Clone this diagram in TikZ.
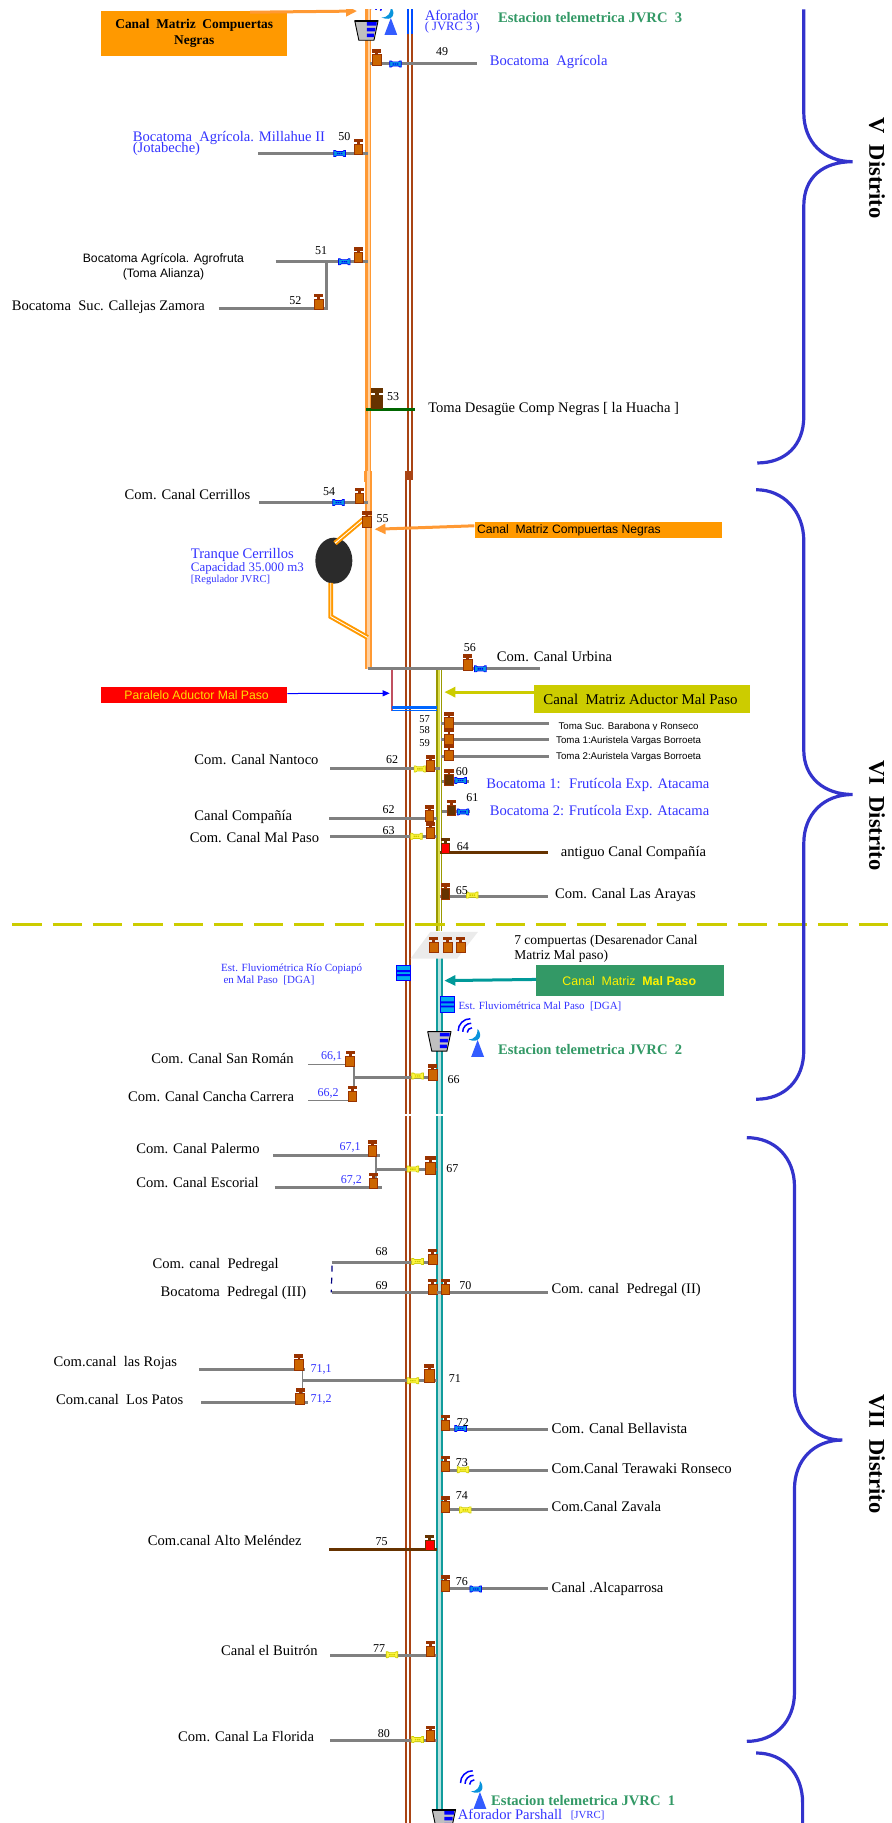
\documentclass[tikz,border=0pt]{standalone}
\usepackage{fontspec}
\setmainfont{Liberation Serif}
\setsansfont{Liberation Sans}
\usetikzlibrary{arrows.meta,shapes.geometric}
\definecolor{cBrown}{HTML}{A94414}
\definecolor{cTeal}{HTML}{119C9C}
\definecolor{cOlive}{HTML}{999900}
\definecolor{cOrange}{HTML}{FF9933}
\definecolor{cOrangeB}{HTML}{FF9900}
\definecolor{cPale}{HTML}{FFD0A0}
\definecolor{cGray}{HTML}{808080}
\definecolor{cBlueT}{HTML}{3333FF}
\definecolor{cGreenT}{HTML}{339966}
\definecolor{cBrace}{HTML}{3333CC}
\definecolor{cYel}{HTML}{CCCC00}
\definecolor{cGateB}{HTML}{CC6600}
\definecolor{cGateT}{HTML}{993300}
\definecolor{cDark}{HTML}{663300}
\definecolor{cArrowT}{HTML}{009999}
\tikzset{
  tx/.style={anchor=west,inner sep=0pt,font=\fontsize{14.6}{16}\selectfont},
  blu/.style={tx,text=cBlueT},
  tsm/.style={tx,font=\fontsize{13.5}{14}\selectfont},
  num/.style={inner sep=0pt,font=\fontsize{12}{13}\selectfont},
  numb/.style={num,text=cBlueT},
  sansm/.style={anchor=west,inner sep=0pt,font=\sffamily\fontsize{9.7}{10}\selectfont},
  sansl/.style={anchor=center,inner sep=0pt,font=\sffamily\fontsize{12.2}{13}\selectfont},
  grn/.style={anchor=west,inner sep=0pt,text=cGreenT,font=\bfseries\fontsize{14.6}{15}\selectfont},
  dist/.style={rotate=-90,inner sep=0pt,font=\bfseries\fontsize{22.5}{24}\selectfont},
  branch/.style={draw=cGray,line width=3pt},
  brownc/.style={draw=cBrown,line width=2pt},
  tealc/.style={draw=cTeal,line width=2pt},
  olivec/.style={draw=cOlive,line width=1.8pt},
  brace/.style={draw=cBrace,line width=3.2pt},
  fatarrow/.style={line width=3pt,-{Triangle[length=11pt,width=10pt]}},
  feed/.style={draw=cOrangeB,line width=2pt,double=white,double distance=.9pt},
  colbox/.style={rectangle,inner sep=0pt,draw=none},
  pics/gate/.style 2 args={code={
    \filldraw[fill=#1,draw=#2,line width=.8pt] (-3.7,0) rectangle (3.7,-9);
    \fill[#2] (-1.2,-9) rectangle (1.2,-11);
    \fill[#2] (-3.9,-10.6) rectangle (3.9,-13.6);
  }},
  pics/valve/.style 2 args={code={
    \filldraw[fill=#1,draw=#2,line width=.7pt] (-5,-2.6) -- (-3.6,-2.6) -- (-2.6,-1.8) -- (2.6,-1.8) -- (3.6,-2.6) -- (5,-2.6) -- (5,2.6) -- (3.6,2.6) -- (2.6,1.8) -- (-2.6,1.8) -- (-3.6,2.6) -- (-5,2.6) -- cycle;
    \fill[#2] (-2.4,-.6) rectangle (-1.2,.6) (-.6,-.6) rectangle (.6,.6) (1.2,-.6) rectangle (2.4,.6);
  }},
  pics/station/.style={code={
    \filldraw[fill=cyan,draw=blue,line width=1pt] (-6,-6.5) rectangle (6,6.5);
    \fill[blue] (-6,-2.6) rectangle (6,-.9) (-6,.9) rectangle (6,2.6);
  }},
  pics/aforo/.style={code={
    \filldraw[fill=black!25,draw=black,line width=.9pt] (-10,0) -- (10,0) -- (6.5,16.6) -- (-6.5,16.6) -- cycle;
    \fill[blue] (.5,1) rectangle (8.8,4) (.5,6) rectangle (7.6,9) (.5,11) rectangle (6.5,14);
    \draw[black,line width=1.4pt] (-10,0) -- (10,0);
  }},
  pics/radio/.style={code={
    \fill[blue!80!cyan!80!white] (-5.5,0) -- (5.5,0) -- (0,-14.5) -- cycle;
    \fill[cyan!80!blue] (0,-24) .. controls (5,-18) and (1,-11) .. (-8,-15) .. controls (-2,-15) and (0,-19) .. cycle;
    \draw[blue,line width=1.5pt] (-4.85,-24.9) .. controls (-7,-25) and (-9,-23) .. (-8.9,-20.85);
    \draw[blue,line width=1.5pt] (-5.5,-28.8) .. controls (-9.4,-29) and (-13,-25.4) .. (-12.8,-21.5);
    \draw[blue,line width=1.5pt] (-6.2,-32.7) .. controls (-11.8,-33) and (-17,-27.8) .. (-16.7,-22.2);
  }},
}
\newcommand\gt[2]{\pic at (#1,#2) {gate={cGateB}{cGateT}};}
\newcommand\gtd[2]{\pic at (#1,#2) {gate={cDark}{cGateT}};}
\newcommand\gtr[2]{\pic at (#1,#2) {gate={red}{cDark}};}
\newcommand\vb[2]{\pic at (#1,#2) {valve={cyan!85!blue}{blue}};}
\newcommand\vy[2]{\pic at (#1,#2) {valve={yellow!75}{cYel}};}
\newcommand\brn[4]{\coordinate (#1a) at (#2,#4);\coordinate (#1b) at (#3,#4);\draw[branch] (#1a) -- (#1b);}
\begin{document}
\begin{tikzpicture}[x=1.16319pt,y=-1.16319pt]
\useasboundingbox (0,0) rectangle (766,1567.2);
% --- main canals
\draw[blue!70!cyan,line width=2pt] (350.5,8) -- (350.5,29) (354,8) -- (354,29);
\draw[brownc] (350.5,29) -- (350.5,405) (354,29) -- (354,405);
\draw[brownc] (348.8,405) -- (348.8,1568) (352.8,405) -- (352.8,1568);
\draw[brownc] (350.5,405) -- (350.5,413) (354,405) -- (354,413);
\draw[cPale,line width=6pt] (316.3,8) -- (316.3,405);
\draw[cOrange,line width=3.6pt] (315,8) -- (315,405);
\draw[cOrange,line width=1pt] (318.7,8) -- (318.7,405);
\draw[cPale,line width=3pt] (316.7,405) -- (316.7,575);
\draw[cOrange,line width=1.6pt] (314.6,405) -- (314.6,575) (318.8,405) -- (318.8,575);
\draw[cOrange,line width=3pt] (314.3,405) -- (314.3,414);
\draw[cYel!70,line width=2.5pt] (377.6,576) -- (377.6,800);
\draw[olivec] (375.6,576) -- (375.6,800) (379.6,576) -- (379.6,800);
\draw[cTeal!30,line width=2.5pt] (377.7,822) -- (377.7,1568);
\draw[tealc] (375.7,822) -- (375.7,1568) (379.7,822) -- (379.7,1568);
\draw[draw={rgb,255:red,192;green,80;blue,96},line width=2.8pt] (337,576) -- (337,611);
\draw[blue!60!cyan,line width=2.6pt] (337,608) -- (376,608);
\draw[blue!60!cyan,line width=.8pt] (337,611) -- (376,611);
% white breaks
\fill[white] (345,331) rectangle (347.5,347) (345,643) rectangle (347.5,658) (345,1481) rectangle (347.5,1495);
\fill[white] (345,958) rectangle (382,959);
% --- branches
\brn{b49}{318}{410}{55} \gt{324}{56} \vb{340}{55}
\node[num] (n49) at (380,44) {49};
\node[blu] (t49) at (421,53.5) {Bocatoma~ Agrícola};
\brn{b50}{222}{316}{132} \gt{308}{133} \vb{292}{132}
\node[num] (n50) at (296,117) {50};
\node[blu] (t50) at (114,119) {Bocatoma~ Agrícola. Millahue II};
\node[blu] (t50b) at (114,128.5) {(Jotabeche)};
\brn{b51}{237}{316}{225} \gt{308}{226} \vb{296}{225}
\node[num] (n51) at (276,215) {51};
\coordinate (v51a) at (281,225); \coordinate (v51b) at (281,266);
\draw[branch] (v51a) -- (v51b);
\brn{b52}{188}{282}{265} \gt{274}{266}
\node[num] (n52) at (254,258) {52};
\node[sansl] (t51) at (140.5,222.5) {Bocatoma Agrícola. Agrofruta};
\node[sansl] (t51b) at (140.5,236) {(Toma Alianza)};
\node[tx] (t52) at (10,264) {Bocatoma~ Suc. Callejas Zamora};
\coordinate (b53a) at (315,352); \coordinate (b53b) at (357,352);
\draw[draw=green!40!black,line width=3pt] (b53a) -- (b53b);
\pic[scale=1.3] at (324,351.5) {gate={cDark}{cDark}};
\node[num] (n53) at (338,341) {53};
\node[tx] (t53) at (368,351.5) {Toma Desagüe Comp Negras [ la Huacha ]};
\brn{b54}{223}{316}{432} \gt{309}{433} \vb{291}{432}
\node[num] (n54) at (283,423) {54};
\node[tx] (t54) at (107,425) {Com. Canal Cerrillos};
% tranque
\node[ellipse,fill=black!83,minimum width=37pt,minimum height=46pt,inner sep=0pt] (tq) at (287,482) {};
\coordinate (f55) at (314,445); \coordinate (f56) at (288,467);
\draw[feed] (f55) -- (f56);
\coordinate (f57) at (284.3,501); \coordinate (f58) at (284.3,530); \coordinate (f59) at (316,548);
\draw[feed,line join=miter] (f57) -- (f58) -- (f59);
\gt{315.5}{453}
\node[num] (n55) at (329,446) {55};
\node[blu] (t55a) at (164,477) {Tranque Cerrillos};
\node[blu,font=\fontsize{12.9}{13}\selectfont] (t55b) at (164,489) {Capacidad 35.000 m3};
\node[blu,font=\fontsize{10.5}{11}\selectfont] (t55c) at (164,499) {[Regulador JVRC]};
\node[colbox,fill=cOrangeB,minimum width=247.8pt,minimum height=15.7pt] (bxB) at (514.5,455.5) {};
\node[anchor=west,inner sep=0pt,font=\sffamily\fontsize{12.15}{13}\selectfont] (tbxB) at (410,456) {Canal~ Matriz Compuertas Negras};
\coordinate (tipB) at (322,455);
\draw[cOrange,fatarrow] (bxB.west) ++(0,-3.5) -- (tipB);
\node[colbox,fill=cOrangeB,minimum width=186pt,minimum height=44.7pt] (bxA) at (167,28.7) {};
\node[inner sep=0pt,align=center,font=\bfseries\fontsize{13.4}{16.3}\selectfont] (tbxA) at (167,28.5) {Canal~ Matriz~ Compuertas\\Negras};
\coordinate (tipA) at (307,9.5); \coordinate (tailA) at (215,10.5);
\draw[cOrange,fatarrow] (tailA) -- (tipA);
% 56
\brn{b56}{316}{464}{575} \gt{402}{576} \vb{413}{575}
\node[num] (n56) at (404,557) {56};
\node[tx] (t56) at (427,564) {Com. Canal Urbina};
\node[colbox,fill=red,minimum width=186pt,minimum height=15.7pt] (bxP) at (167,597.5) {};
\node[inner sep=0pt,text=yellow!80!orange,font=\sffamily\fontsize{12.2}{13}\selectfont] (tbxP) at (169,598) {Paralelo Aductor Mal Paso};
\coordinate (tipP) at (335,596);
\draw[blue,line width=1pt,-{Triangle[length=7pt,width=6pt]}] (bxP.east) ++(0,-1.3) -- (tipP);
\node[colbox,fill=cYel,minimum width=216.4pt,minimum height=27.7pt] (bxC) at (552,601) {};
\node[tx,font=\fontsize{14.9}{15}\selectfont] (tbxC) at (467,601.5) {Canal~ Matriz Aductor Mal Paso};
\coordinate (tipC) at (382,595);
\draw[cYel,fatarrow] (bxC.west) ++(0,-6) -- (tipC);
% 57-59
\brn{b57}{379}{472}{622} \gt{386}{626}
\brn{b58}{379}{472}{636} \gt{386}{640}
\brn{b59}{379}{472}{650} \gt{386}{654}
\node[num,font=\fontsize{10.5}{11}\selectfont] (n57) at (365,618) {57};
\node[num,font=\fontsize{10.5}{11}\selectfont] (n58) at (365,628) {58};
\node[num,font=\fontsize{10.5}{11}\selectfont] (n59) at (365,638.5) {59};
\node[sansm] (t57) at (480,625.4) {Toma Suc. Barabona y Ronseco};
\fill[white] (476,627.7) rectangle (620,634);
\node[sansm] (t58) at (478,637) {Toma 1:Auristela Vargas Borroeta};
\node[sansm] (t59) at (478,651) {Toma 2:Auristela Vargas Borroeta};
% 62 Nantoco
\brn{b62}{284}{378}{661} \vy{361}{661} \gt{370}{663}
\node[num] (n62) at (337,653) {62};
\node[tx] (t62) at (167,653) {Com. Canal Nantoco};
\brn{b60}{380}{403}{671.5} \gtd{386}{675} \vb{396}{671}
\node[num] (n60) at (397,663) {60};
\node[blu] (t60) at (418,675) {Bocatoma 1:~ Frutícola Exp. Atacama};
\brn{b61}{380}{404}{698} \gtd{388}{701} \vb{398}{698}
\node[num] (n61) at (406,686) {61};
\node[blu] (t61) at (421,698) {Bocatoma 2: Frutícola Exp. Atacama};
\brn{b62c}{283}{376}{704} \gt{369}{706}
\node[num] (n62c) at (334,696) {62};
\node[tx] (t62c) at (167,702.5) {Canal Compañía};
\brn{b63}{284}{376}{719} \vy{358}{719} \gt{370}{720.5}
\node[num] (n63) at (334,714) {63};
\node[tx] (t63) at (163,720) {Com. Canal Mal Paso};
\coordinate (b64a) at (378,733); \coordinate (b64b) at (471,733);
\draw[draw=cDark,line width=3pt] (b64a) -- (b64b);
\gtr{383}{734}
\node[num] (n64) at (398,728) {64};
\node[tx] (t64) at (482,733.5) {antiguo Canal Compañía};
\brn{b65}{378}{471}{771} \gtd{383}{773} \vy{406}{769.5}
\node[num] (n65) at (397,766) {65};
\node[tx] (t65) at (477,769.5) {Com. Canal Las Arayas};
% dashed divider
\coordinate (dv1) at (10.6,795); \coordinate (dv2) at (766,795);
\draw[cYel,line width=3.4pt,dash pattern=on 29.3pt off 11pt] (dv1) -- (dv2);
% 7 compuertas
\fill[black!8] (370,801) -- (411,801) -- (393,824) -- (353,824) -- cycle;
\gt{373}{819} \gt{385}{819} \gt{396}{819}
\node[tsm] (t7a) at (442,809) {7 compuertas (Desarenador Canal};
\node[tsm] (t7b) at (442,822) {Matriz Mal paso)};
\pic at (347,836.5) {station};
\pic at (385,863.5) {station};
\node[anchor=west,inner sep=0pt,text=cBlueT,font=\fontsize{11}{12}\selectfont] (te1) at (190,833) {Est. Fluviométrica Río Copiapó};
\node[anchor=west,inner sep=0pt,text=cBlueT,font=\fontsize{11}{12}\selectfont] (te2) at (192,842.5) {en Mal Paso~ [DGA]};
\node[anchor=west,inner sep=0pt,text=cBlueT,font=\fontsize{11}{12}\selectfont] (te3) at (394,865.5) {Est. Fluviométrica Mal Paso~ [DGA]};
\node[colbox,fill=cGreenT,minimum width=187.3pt,minimum height=31pt] (bxM) at (541.5,843) {};
\node[inner sep=0pt,text=yellow,font=\sffamily\fontsize{12.4}{13}\selectfont] (tbxM) at (541,843) {Canal~ Matriz~ \textbf{Mal Paso}};
\coordinate (tipM) at (382,843);
\draw[cArrowT,fatarrow] (bxM.west) ++(0,-1) -- (tipM);
\pic at (377.7,887) {aforo};
\pic at (410.6,908.5) {radio};
\node[grn] (tg2) at (428,902) {Estacion telemetrica JVRC~ 2};
% 66
\coordinate (v66a) at (304,917); \coordinate (v66b) at (304,936);
\draw[cGray,line width=2pt] (v66a) -- (v66b);
\brn{b66}{304}{376}{926} \vy{359}{925} \gt{372}{928.5}
\node[num] (n66) at (390,928) {66};
\coordinate (b661a) at (265,915); \coordinate (b661b) at (300,915);
\draw[cGray,line width=1.6pt] (b661a) -- (b661b);
\gt{301}{917}
\node[numb] (n661) at (285,908) {66,1};
\coordinate (b662a) at (265,946); \coordinate (b662b) at (300,946);
\draw[cGray,line width=1.6pt] (b662a) -- (b662b);
\gt{303}{947}
\node[numb] (n662) at (282,940) {66,2};
\node[tx] (t661) at (130,910) {Com. Canal San Román};
\node[tx] (t662) at (110,943) {Com. Canal Cancha Carrera};
% 67
\coordinate (v67a) at (323,993); \coordinate (v67b) at (323,1021);
\draw[cGray,line width=2pt] (v67a) -- (v67b);
\brn{b67}{323}{376}{1005} \vy{355}{1005} \pic[scale=1.2] at (370,1010) {gate={cGateB}{cGateT}};
\node[num] (n67) at (389,1005) {67};
\brn{b671}{235}{327}{993} \gt{320}{994}
\node[numb] (n671) at (301,986) {67,1};
\brn{b672}{236}{328}{1021} \gt{321}{1022}
\node[numb] (n672) at (302,1015) {67,2};
\node[tx] (t671) at (117,987.5) {Com. Canal Palermo};
\node[tx] (t672) at (117,1017) {Com. Canal Escorial};
% 68-70
\brn{b68}{285}{376}{1085} \vy{359}{1084.5} \gt{372}{1087}
\node[num] (n68) at (328,1076) {68};
\node[tx] (t68) at (131,1087.5) {Com. canal~ Pedregal};
\coordinate (dsA) at (285.5,1088); \coordinate (dsB) at (284.8,1111);
\draw[blue!50!black,line width=1.2pt,dash pattern=on 6pt off 6pt] (dsA) -- (dsB);
\brn{b69}{285}{376}{1111} \gt{372}{1113}
\node[num] (n69) at (328,1105) {69};
\node[tx] (t69) at (138,1111.5) {Bocatoma~ Pedregal (III)};
\brn{b70}{376}{471}{1111} \gt{383}{1113}
\node[num] (n70) at (400,1105) {70};
\node[tx] (t70) at (474,1109) {Com. canal~ Pedregal (II)};
% 71
\coordinate (v71a) at (260,1177); \coordinate (v71b) at (260,1205);
\draw[cGray,line width=1.8pt] (v71a) -- (v71b);
\brn{b71}{260}{376}{1187} \vy{355}{1187} \pic[scale=1.15] at (369,1188) {gate={cGateB}{cGateT}};
\node[num] (n71) at (391,1185) {71};
\brn{b711}{171}{262}{1177} \gt{257}{1178}
\node[numb] (n711) at (276,1177) {71,1};
\brn{b712}{173}{265}{1206} \gt{258}{1207}
\node[numb] (n712) at (276,1203) {71,2};
\node[tx] (t711) at (46,1171.5) {Com.canal~ las Rojas};
\node[tx] (t712) at (48,1203) {Com.canal~ Los Patos};
% 72-76
\brn{b72}{380}{471}{1229} \gt{383}{1230} \vb{396}{1228}
\node[num] (n72) at (398,1223) {72};
\node[tx,font=\fontsize{14.9}{15}\selectfont] (t72) at (474,1228) {Com. Canal Bellavista};
\brn{b73}{380}{471}{1264} \gt{383}{1265} \vy{398}{1263.5}
\node[num] (n73) at (397,1257) {73};
\node[tx,font=\fontsize{14.8}{15}\selectfont] (t73) at (474,1262) {Com.Canal Terawaki Ronseco};
\brn{b74}{380}{471}{1298} \gt{383}{1300} \vy{400}{1298}
\node[num] (n74) at (397,1286) {74};
\node[tx] (t74) at (474,1295) {Com.Canal Zavala};
\coordinate (b75a) at (283,1332); \coordinate (b75b) at (376,1332);
\draw[draw=cDark,line width=3pt] (b75a) -- (b75b);
\gtr{369.5}{1333}
\node[num] (n75) at (328,1325) {75};
\node[tx] (t75) at (127,1324) {Com.canal Alto Meléndez};
\brn{b76}{380}{471}{1366} \gt{383}{1368} \vb{409}{1366}
\node[num] (n76) at (397,1360) {76};
\node[tx] (t76) at (474,1366) {Canal .Alcaparrosa};
\brn{b77}{284}{376}{1423} \vy{337}{1422.5} \gt{370}{1424}
\node[num] (n77) at (326,1417) {77};
\node[tx] (t77) at (190,1419) {Canal el Buitrón};
\brn{b80}{284}{376}{1496} \vy{359}{1495.5} \gt{370}{1497}
\node[num] (n80) at (330,1490) {80};
\node[tx] (t80) at (153,1493) {Com. Canal La Florida};
% telemetry top and bottom
\pic at (315,18) {aforo};
\pic at (336,30) {radio};
\node[blu] (taf) at (365,13.5) {Aforador};
\node[blu,font=\fontsize{12.6}{13}\selectfont] (taf2) at (365,24) {( JVRC 3 )};
\node[grn] (tg3) at (428,15.5) {Estacion telemetrica JVRC~ 3};
\pic at (412.6,1555) {radio};
\pic at (381.6,1556) {aforo};
\node[grn] (tg1) at (422,1547.5) {Estacion telemetrica JVRC~ 1};
\node[blu] (tpa) at (393.5,1560) {Aforador Parshall};
\node[blu,font=\fontsize{10.8}{11}\selectfont] (tpb) at (490.5,1560.5) {[JVRC]};
% braces
\draw[brace] (691,8) -- (691,97) .. controls (691,122) and (708,139) .. (733,139) .. controls (708,139) and (691,152) .. (691,177) -- (691,358) .. controls (691,383) and (675,398) .. (651,398);
\draw[brace] (650,421) .. controls (674,421) and (691,440) .. (691,465) -- (691,645) .. controls (691,668) and (708,683) .. (733,683) .. controls (708,683) and (691,700) .. (691,725) -- (691,903) .. controls (691,928) and (675,945) .. (650,945);
\draw[brace] (642,978) .. controls (666,978) and (683,995) .. (683,1020) -- (683,1195) .. controls (683,1220) and (700,1238) .. (724,1238) .. controls (700,1238) and (683,1255) .. (683,1280) -- (683,1455) .. controls (683,1480) and (666,1497) .. (642,1497);
\draw[brace] (650,1507) .. controls (674,1507) and (690,1525) .. (690,1550) -- (690,1568);
\node[dist] (dV) at (754,144.5) {V~ Distrito};
\node[dist] (dVI) at (754,701) {VI~ Distrito};
\node[dist] (dVII) at (754,1250) {VII~ Distrito};
\fill[white] (0,0) rectangle (766,7.8);
\end{tikzpicture}
\end{document}
